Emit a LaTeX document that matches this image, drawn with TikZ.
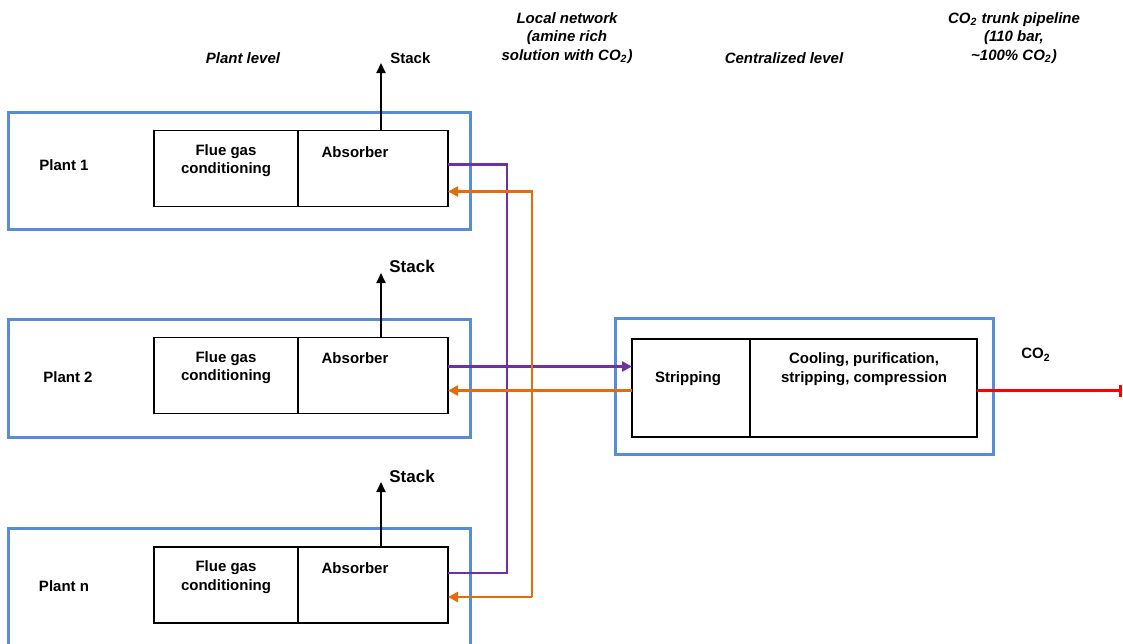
\documentclass[tikz,border=0pt]{standalone}
\usepackage{fontspec}
\setmainfont{Liberation Sans}
\usepackage{tikz}
\usetikzlibrary{calc,arrows.meta,positioning}

\definecolor{plantblue}{RGB}{85,142,213}
\definecolor{richpurple}{RGB}{112,48,160}
\definecolor{leanorange}{RGB}{228,108,10}

\begin{document}
\begin{tikzpicture}[x=0.5pt,y=-0.5pt,
    font=\fontsize{7.5}{9.2}\selectfont\bfseries,
    site/.style={draw=plantblue,line width=1.5pt,inner sep=0pt,outer sep=0pt},
    unit/.style={draw,line width=0.9pt,minimum height=38pt,inner sep=0pt,outer sep=0pt},
    txt/.style={align=center,inner sep=1pt},
    head/.style={txt,font=\fontsize{7.5}{9.2}\selectfont\bfseries\itshape},
    stackarrow/.style={line width=1pt,-{Triangle[length=5pt,width=4.5pt]}},
    rich/.style={draw=richpurple,line width=1.4pt},
    lean/.style={draw=leanorange,line width=1.4pt},
    tip/.style={-{Triangle[length=5pt,width=5pt]}}]
    \useasboundingbox (0,0) rectangle (1123,643);
    % headers
    \node[head] (hplant) at (243,58) {Plant level};
    \node[head] (hlocal) at (567,38) {Local network\\(amine rich\\solution with CO\textsubscript{2})};
    \node[head] (hcentral) at (784,58) {Centralized level};
    \node[head] (htrunk) at (1014,38) {CO\textsubscript{2} trunk pipeline\\(110 bar,\\\textasciitilde100\% CO\textsubscript{2})};
    % plant 1
    \node[site,minimum width=231pt,minimum height=58.5pt] (site1) at (239,171) {};
    \node[unit,minimum width=72pt] (fgc1) at (226,168.5) {};
    \node[unit,minimum width=75pt,right=0pt of fgc1] (abs1) {};
    \node[txt] (lab1) at (64,165) {Plant 1};
    \node[txt] (fgt1) at ($(fgc1)+(0,-8)$) {Flue gas\\conditioning};
    \node[txt] (abt1) at ($(abs1)+(-18,-16)$) {Absorber};
    \coordinate (top1) at (381,63);
    \draw[stackarrow] (abs1.north -| top1) -- (top1);
    \node[txt,anchor=west] (stk1) at (388,58) {Stack};
    % plant 2
    \node[site,minimum width=231pt,minimum height=59pt] (site2) at (239,378) {};
    \node[unit,minimum width=72pt] (fgc2) at (226,375.5) {};
    \node[unit,minimum width=75pt,right=0pt of fgc2] (abs2) {};
    \node[txt] (lab2) at (68,377) {Plant 2};
    \node[txt] (fgt2) at ($(fgc2)+(0,-8)$) {Flue gas\\conditioning};
    \node[txt] (abt2) at ($(abs2)+(-18,-17)$) {Absorber};
    \coordinate (top2) at (381,273);
    \draw[stackarrow] (abs2.north -| top2) -- (top2);
    \node[txt,anchor=west,font=\fontsize{8.5}{10}\selectfont\bfseries] (stk2) at (387,266) {Stack};
    % plant n
    \node[site,minimum width=231pt,minimum height=60pt] (site3) at (239,588) {};
    \node[unit,minimum width=72pt] (fgc3) at (226,585) {};
    \node[unit,minimum width=75pt,right=0pt of fgc3] (abs3) {};
    \node[txt] (lab3) at (64,586) {Plant n};
    \node[txt] (fgt3) at ($(fgc3)+(0,-8)$) {Flue gas\\conditioning};
    \node[txt] (abt3) at ($(abs3)+(-18,-17)$) {Absorber};
    \coordinate (top3) at (381,482);
    \draw[stackarrow] (abs3.north -| top3) -- (top3);
    \node[txt,anchor=west,font=\fontsize{8.5}{10}\selectfont\bfseries] (stk3) at (387,476) {Stack};
    % centralized level
    \node[site,minimum width=189pt,minimum height=68pt] (hub) at (804.5,386) {};
    \node[unit,minimum width=59pt,minimum height=49pt] (strip) at (691,388) {};
    \node[unit,minimum width=113.5pt,minimum height=49pt,right=0pt of strip] (cool) {};
    \node[txt] (stript) at (688,379) {Stripping};
    \node[txt] (coolt) at (864,369) {Cooling, purification,\\stripping, compression};
    \node[txt] (co2) at (1036,355) {CO\textsubscript{2}};
    % local network
    \coordinate (richbus) at (507,0);
    \coordinate (leanbus) at (532,0);
    \coordinate (out1) at ($(abs1.east)+(0,-4)$);
    \coordinate (in1) at ($(abs1.east)+(0,23)$);
    \coordinate (out2) at ($(abs2.east)+(0,-9)$);
    \coordinate (in2) at ($(abs2.east)+(0,15)$);
    \coordinate (out3) at ($(abs3.east)+(0,-12)$);
    \coordinate (in3) at ($(abs3.east)+(0,12)$);
    \draw[rich] (out1) -| (out3 -| richbus) -- (out3);
    \draw[rich,tip] (out2) -- (out2 -| strip.west);
    \draw[lean,tip] (in3 -| leanbus) |- (in1);
    \draw[lean,tip] (in3 -| leanbus) -- (in3);
    \draw[lean,tip] (in2 -| strip.west) -- (in2);
    % trunk pipeline
    \coordinate (trunk) at (1122,0);
    \draw[red,line width=1.4pt,-{Bar[width=6pt]}] (in2 -| cool.east) -- (in2 -| trunk);
\end{tikzpicture}
\end{document}
